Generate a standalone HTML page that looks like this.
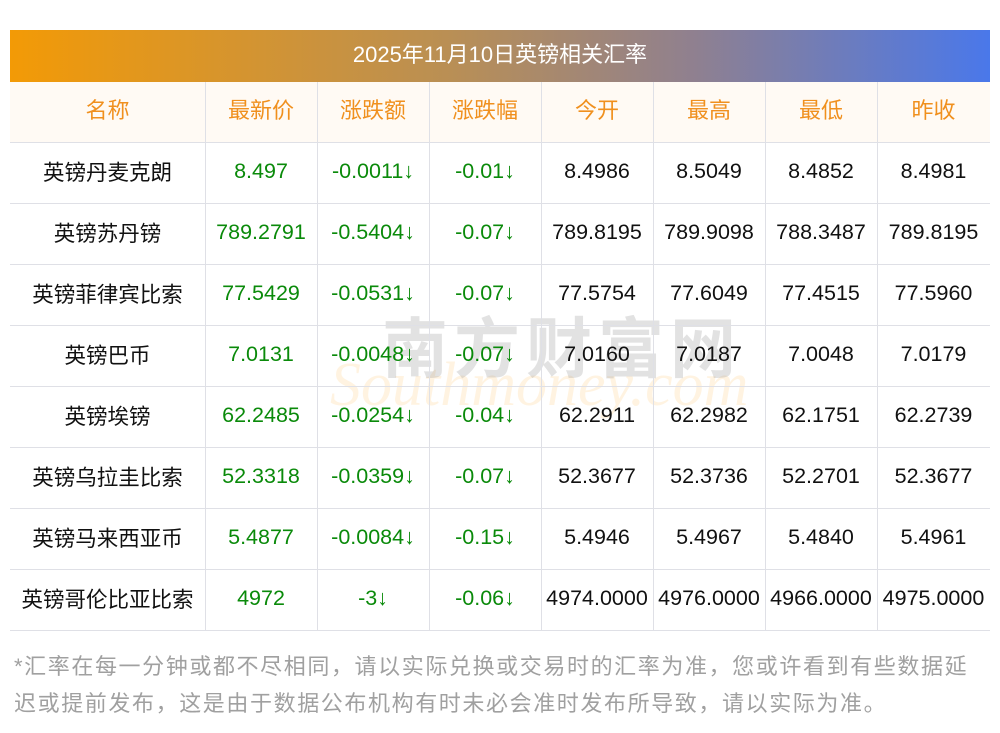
<!DOCTYPE html><html><head><meta charset="utf-8"><style>
body{margin:0;width:1000px;height:733px;background:#fff;font-family:"Liberation Sans","Noto Sans CJK SC",sans-serif;position:relative;overflow:hidden}
.t{position:absolute;left:10px;top:30px;width:980px;height:52px;background:linear-gradient(90deg,#f39a06,#b98f55 45%,#8f8090 70%,#4a78ea);color:#fff;font-size:22px;line-height:50px;text-align:center}
.hb{position:absolute;left:10px;top:82px;width:980px;height:60px;background:#fffaf4}
.h{position:absolute;left:10px;width:980px;height:1px;background:#dfe0e6}
.v{position:absolute;top:82px;width:1px;height:548px;background:#dfe0e6}
.r{position:absolute;left:10px;width:980px;height:56px;line-height:56px;font-size:21.5px;color:#111}
.r span{position:absolute;top:-1px;text-align:center}
.r span.n{top:1px}
.hd{color:#f0901e;font-size:22px}
.hd span{top:-1px}
.g{color:#0a8a0a}
.w1{position:absolute;left:382px;top:296px;font-size:66px;color:rgba(150,150,150,.28);letter-spacing:6px;font-weight:bold}
.w2{position:absolute;left:330px;top:350px;font-size:62px;color:rgba(253,200,120,.22);font-style:italic;font-family:"Liberation Serif",serif}
.f{position:absolute;left:14px;top:648px;width:990px;font-size:22px;line-height:37px;color:#a0a0a0;letter-spacing:1.6px;white-space:nowrap}
</style></head><body>
<div class="t">2025年11月10日英镑相关汇率</div>
<div class="hb"></div>
<div class="w2">Southmoney.com</div>
<div class="w1">南方财富网</div>
<div class="h" style="top:142px"></div><div class="h" style="top:203px"></div><div class="h" style="top:264px"></div><div class="h" style="top:325px"></div><div class="h" style="top:386px"></div><div class="h" style="top:447px"></div><div class="h" style="top:508px"></div><div class="h" style="top:569px"></div><div class="h" style="top:630px"></div>
<div class="v" style="left:205px"></div><div class="v" style="left:317px"></div><div class="v" style="left:429px"></div><div class="v" style="left:541px"></div><div class="v" style="left:653px"></div><div class="v" style="left:765px"></div><div class="v" style="left:877px"></div>
<div class="r hd" style="top:84px"><span style="left:0;width:195px">名称</span><span style="left:195px;width:112px">最新价</span><span style="left:307px;width:112px">涨跌额</span><span style="left:419px;width:112px">涨跌幅</span><span style="left:531px;width:112px">今开</span><span style="left:643px;width:112px">最高</span><span style="left:755px;width:112px">最低</span><span style="left:867px;width:113px">昨收</span></div>
<div class="r" style="top:144px"><span class="n" style="left:0;width:195px">英镑丹麦克朗</span><span class="g" style="left:195px;width:112px">8.497</span><span class="g" style="left:307px;width:112px">-0.0011↓</span><span class="g" style="left:419px;width:112px">-0.01↓</span><span style="left:531px;width:112px">8.4986</span><span style="left:643px;width:112px">8.5049</span><span style="left:755px;width:112px">8.4852</span><span style="left:867px;width:113px">8.4981</span></div>
<div class="r" style="top:205px"><span class="n" style="left:0;width:195px">英镑苏丹镑</span><span class="g" style="left:195px;width:112px">789.2791</span><span class="g" style="left:307px;width:112px">-0.5404↓</span><span class="g" style="left:419px;width:112px">-0.07↓</span><span style="left:531px;width:112px">789.8195</span><span style="left:643px;width:112px">789.9098</span><span style="left:755px;width:112px">788.3487</span><span style="left:867px;width:113px">789.8195</span></div>
<div class="r" style="top:266px"><span class="n" style="left:0;width:195px">英镑菲律宾比索</span><span class="g" style="left:195px;width:112px">77.5429</span><span class="g" style="left:307px;width:112px">-0.0531↓</span><span class="g" style="left:419px;width:112px">-0.07↓</span><span style="left:531px;width:112px">77.5754</span><span style="left:643px;width:112px">77.6049</span><span style="left:755px;width:112px">77.4515</span><span style="left:867px;width:113px">77.5960</span></div>
<div class="r" style="top:327px"><span class="n" style="left:0;width:195px">英镑巴币</span><span class="g" style="left:195px;width:112px">7.0131</span><span class="g" style="left:307px;width:112px">-0.0048↓</span><span class="g" style="left:419px;width:112px">-0.07↓</span><span style="left:531px;width:112px">7.0160</span><span style="left:643px;width:112px">7.0187</span><span style="left:755px;width:112px">7.0048</span><span style="left:867px;width:113px">7.0179</span></div>
<div class="r" style="top:388px"><span class="n" style="left:0;width:195px">英镑埃镑</span><span class="g" style="left:195px;width:112px">62.2485</span><span class="g" style="left:307px;width:112px">-0.0254↓</span><span class="g" style="left:419px;width:112px">-0.04↓</span><span style="left:531px;width:112px">62.2911</span><span style="left:643px;width:112px">62.2982</span><span style="left:755px;width:112px">62.1751</span><span style="left:867px;width:113px">62.2739</span></div>
<div class="r" style="top:449px"><span class="n" style="left:0;width:195px">英镑乌拉圭比索</span><span class="g" style="left:195px;width:112px">52.3318</span><span class="g" style="left:307px;width:112px">-0.0359↓</span><span class="g" style="left:419px;width:112px">-0.07↓</span><span style="left:531px;width:112px">52.3677</span><span style="left:643px;width:112px">52.3736</span><span style="left:755px;width:112px">52.2701</span><span style="left:867px;width:113px">52.3677</span></div>
<div class="r" style="top:510px"><span class="n" style="left:0;width:195px">英镑马来西亚币</span><span class="g" style="left:195px;width:112px">5.4877</span><span class="g" style="left:307px;width:112px">-0.0084↓</span><span class="g" style="left:419px;width:112px">-0.15↓</span><span style="left:531px;width:112px">5.4946</span><span style="left:643px;width:112px">5.4967</span><span style="left:755px;width:112px">5.4840</span><span style="left:867px;width:113px">5.4961</span></div>
<div class="r" style="top:571px"><span class="n" style="left:0;width:195px">英镑哥伦比亚比索</span><span class="g" style="left:195px;width:112px">4972</span><span class="g" style="left:307px;width:112px">-3↓</span><span class="g" style="left:419px;width:112px">-0.06↓</span><span style="left:531px;width:112px">4974.0000</span><span style="left:643px;width:112px">4976.0000</span><span style="left:755px;width:112px">4966.0000</span><span style="left:867px;width:113px">4975.0000</span></div>
<div class="f">*汇率在每一分钟或都不尽相同，请以实际兑换或交易时的汇率为准，您或许看到有些数据延<br>迟或提前发布，这是由于数据公布机构有时未必会准时发布所导致，请以实际为准。</div>
</body></html>
